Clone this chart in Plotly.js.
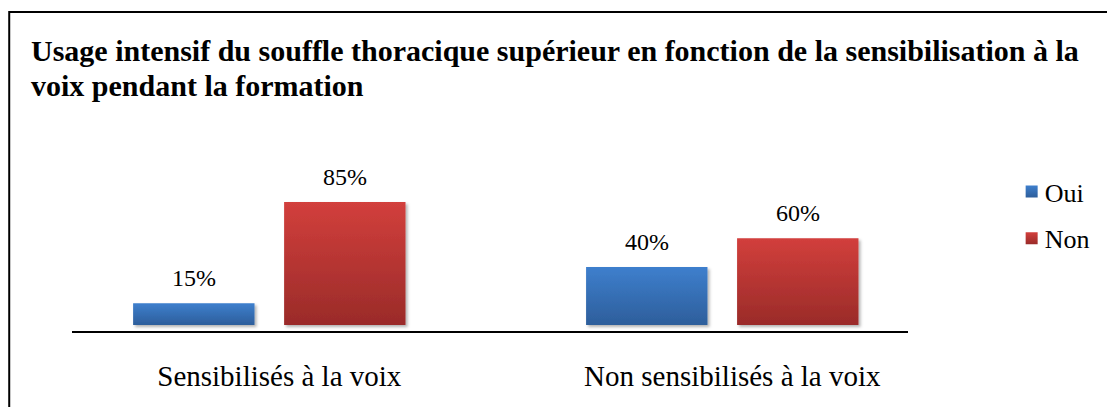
<!DOCTYPE html>
<html>
<head>
<meta charset="utf-8">
<script src="https://cdn.plot.ly/plotly-3.0.1.min.js"></script>
<style>
  html, body { margin: 0; padding: 0; background: #ffffff; }
  #chart { width: 1107px; height: 407px; }
</style>
</head>
<body>
<div id="chart"></div>
<script>
// ---- data ----
const CATEGORIES = ['Sensibilisés à la voix', 'Non sensibilisés à la voix'];
const SERIES_NAMES = ['Oui', 'Non'];
const OUI = [15, 40];
const NON = [85, 60];
const VALUE_SUFFIX = '%';
const TITLE_LINES = [
  'Usage intensif du souffle thoracique supérieur en fonction de la sensibilisation à la',
  'voix pendant la formation'
];

// ---- layout geometry ----
const W = 1107, H = 407;
const M = { l: 72, r: 196, t: 140, b: 76 };
const plotH = H - M.t - M.b;
const plotW = W - M.l - M.r;
const pxToPaperY = y => (H - M.b - y) / plotH;
const pxToPaperX = x => (x - M.l) / plotW;

const FONT = '"Liberation Serif", "Times New Roman", Times, serif';
const BLUE = '#3670B8';
const RED = '#BE3835';

const traces = [
  { type: 'bar', name: SERIES_NAMES[0], x: CATEGORIES, y: OUI, legendgroup: 'a',
    marker: { color: BLUE, line: { width: 0 } }, hoverinfo: 'skip' },
  { type: 'bar', name: SERIES_NAMES[1], x: CATEGORIES, y: NON, legendgroup: 'b',
    marker: { color: RED, line: { width: 0 } }, hoverinfo: 'skip' }
];

const annotations = [];
// title lines
TITLE_LINES.forEach((t, i) => {
  annotations.push({
    text: '<b>' + t + '</b>', xref: 'paper', yref: 'paper',
    x: pxToPaperX(29), xanchor: 'left',
    y: pxToPaperY(i === 0 ? 50 : 85), yanchor: 'middle',
    showarrow: false, align: 'left',
    font: { family: FONT, size: 30, color: '#000000' }
  });
});
// value labels
const OFFSET = 75.75;
[OUI, NON].forEach((vals, s) => {
  vals.forEach((v, i) => {
    annotations.push({
      text: v + VALUE_SUFFIX, x: CATEGORIES[i], y: v, xref: 'x', yref: 'y',
      xshift: s === 0 ? -OFFSET : OFFSET, yshift: 10,
      xanchor: 'center', yanchor: 'bottom', showarrow: false,
      font: { family: FONT, size: 24, color: '#000000' }
    });
  });
});

const layout = {
  width: W, height: H,
  margin: M,
  font: { family: FONT, color: '#000000' },
  paper_bgcolor: '#ffffff', plot_bgcolor: '#ffffff',
  barmode: 'group', bargap: 0.3333, bargroupgap: 0.196,
  showlegend: true,
  legend: {
    x: pxToPaperX(1008), xanchor: 'left', xref: 'paper',
    y: pxToPaperY(168), yanchor: 'top', yref: 'paper',
    font: { family: FONT, size: 26, color: '#000000' },
    traceorder: 'grouped', tracegroupgap: 10,
    bgcolor: 'rgba(0,0,0,0)', borderwidth: 0
  },
  xaxis: {
    type: 'category', range: [-0.4356, 1.410],
    showline: true, linecolor: '#000000', linewidth: 2,
    showgrid: false, zeroline: false, ticks: '',
    ticklabelstandoff: 18, ticklabelshift: 10,
    tickfont: { family: FONT, size: 29, color: '#000000' },
    fixedrange: true
  },
  yaxis: {
    range: [-6 / 1.447, (325 - M.t) / 1.447],
    visible: false, showgrid: false, zeroline: false, fixedrange: true
  },
  annotations: annotations,
  shapes: [{
    type: 'rect', xref: 'paper', yref: 'paper',
    x0: pxToPaperX(9), x1: pxToPaperX(1112),
    y0: pxToPaperY(420), y1: pxToPaperY(12),
    line: { color: '#000000', width: 2 }, fillcolor: 'rgba(0,0,0,0)', layer: 'below'
  }]
};

Plotly.newPlot('chart', traces, layout, { staticPlot: true, displayModeBar: false }).then(gd => {
  const svgNS = 'http://www.w3.org/2000/svg';
  const svg = gd.querySelector('svg.main-svg');
  let defs = svg.querySelector('defs');
  if (!defs) { defs = document.createElementNS(svgNS, 'defs'); svg.insertBefore(defs, svg.firstChild); }
  const mkGrad = (id, top, bottom) => {
    const g = document.createElementNS(svgNS, 'linearGradient');
    g.setAttribute('id', id);
    g.setAttribute('x1', '0'); g.setAttribute('y1', '0');
    g.setAttribute('x2', '0'); g.setAttribute('y2', '1');
    [[0, top], [1, bottom]].forEach(([o, c]) => {
      const st = document.createElementNS(svgNS, 'stop');
      st.setAttribute('offset', o); st.setAttribute('stop-color', c);
      g.appendChild(st);
    });
    defs.appendChild(g);
  };
  mkGrad('gradBlue', '#3E7FCD', '#2D5E9B');
  mkGrad('gradRed', '#D23F3C', '#9A2B29');
  const f = document.createElementNS(svgNS, 'filter');
  f.setAttribute('id', 'barShadow');
  f.setAttribute('x', '-10%'); f.setAttribute('y', '-10%');
  f.setAttribute('width', '130%'); f.setAttribute('height', '130%');
  const ds = document.createElementNS(svgNS, 'feDropShadow');
  ds.setAttribute('dx', '2'); ds.setAttribute('dy', '2');
  ds.setAttribute('stdDeviation', '1.5');
  ds.setAttribute('flood-color', '#000000'); ds.setAttribute('flood-opacity', '0.3');
  f.appendChild(ds); defs.appendChild(f);

  const ids = ['gradBlue', 'gradRed'];
  gd.querySelectorAll('.barlayer .trace').forEach((tr, i) => {
    tr.querySelectorAll('path').forEach(p => {
      p.style.fill = 'url(#' + ids[i] + ')';
      p.setAttribute('filter', 'url(#barShadow)');
    });
  });
  gd.querySelectorAll('.legend .traces').forEach((tr, i) => {
    const pts = tr.querySelector('.legendpoints');
    if (pts) pts.setAttribute('transform', 'translate(7,0)');
    tr.querySelectorAll('.legendpoints path').forEach(p => {
      p.style.fill = 'url(#' + ids[i] + ')';
    });
  });
});
</script>
</body>
</html>
